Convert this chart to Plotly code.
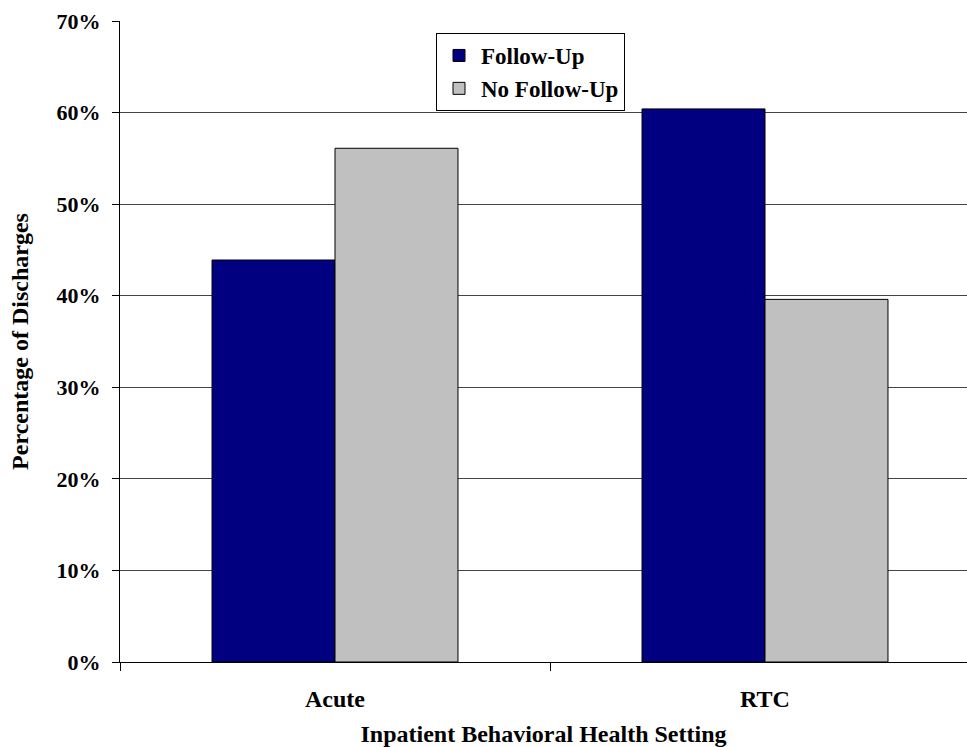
import plotly.graph_objects as go

# Share of discharges with and without follow-up, by inpatient setting
settings = ["Acute", "RTC"]
follow_up = [43.9, 60.4]
no_follow_up = [56.1, 39.6]
y_ticks = [0, 10, 20, 30, 40, 50, 60, 70]
y_tick_labels = ["0%", "10%", "20%", "30%", "40%", "50%", "60%", "70%"]

FONT = "Times New Roman, Liberation Serif, DejaVu Serif, serif"

fig = go.Figure()
fig.add_trace(go.Bar(
    name="<b>Follow-Up</b>", x=settings, y=follow_up,
    marker=dict(color="#000080", line=dict(color="#000000", width=1)),
))
fig.add_trace(go.Bar(
    name="<b>No Follow-Up</b>", x=settings, y=no_follow_up,
    marker=dict(color="#C0C0C0", line=dict(color="#000000", width=1)),
))

W, H = 967, 747
L, T, B = 120, 21, 85
plot_w = W - L

fig.update_layout(
    width=W, height=H,
    margin=dict(l=L, r=0, t=T, b=B),
    paper_bgcolor="white", plot_bgcolor="white",
    barmode="group", bargap=0.428, bargroupgap=0,
    font=dict(family=FONT, color="black", size=24),
    showlegend=True,
    legend=dict(
        x=(436 - L) / plot_w, y=(662 - 33) / (662 - T),
        xanchor="left", yanchor="top",
        bgcolor="white", bordercolor="black", borderwidth=1,
        font=dict(family=FONT, size=23, color="black"),
        traceorder="normal", itemwidth=34,
    ),
)

fig.update_xaxes(
    type="category", automargin=False,
    range=[-0.5, -0.5 + plot_w / 430.0],
    tickson="boundaries", ticks="outside", ticklen=8, tickcolor="black",
    showline=True, linecolor="black", linewidth=1,
    tickfont=dict(family=FONT, size=24, color="black"),
    ticktext=["<b>Acute</b>", "<b>RTC</b>"], tickvals=settings,
    ticklabelstandoff=15,
    title=dict(text="<b>Inpatient Behavioral Health Setting</b>",
               font=dict(family=FONT, size=24, color="black"), standoff=24),
    showgrid=False,
)
fig.update_yaxes(
    automargin=False,
    range=[0, 70], tickvals=y_ticks,
    ticktext=["<b>%s</b>" % t for t in y_tick_labels],
    ticks="outside", ticklen=7, tickcolor="black",
    ticklabelstandoff=7,
    showline=True, linecolor="black", linewidth=1,
    showgrid=True, gridcolor="#444444", gridwidth=1,
    tickfont=dict(family=FONT, size=22, color="black"),
    title=dict(text="<b>Percentage of Discharges</b>",
               font=dict(family=FONT, size=24, color="black"), standoff=21),
    zeroline=False,
)

fig.write_html("out.html")
